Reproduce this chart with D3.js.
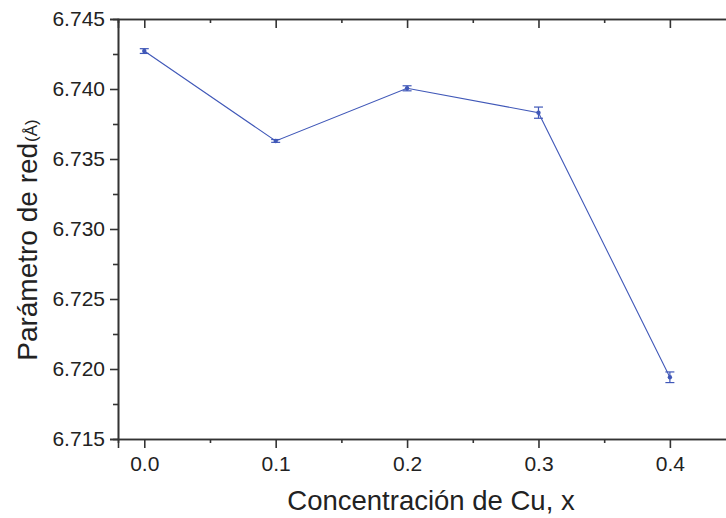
<!DOCTYPE html>
<html>
<head>
<meta charset="utf-8">
<script src="https://cdn.jsdelivr.net/npm/d3@7"></script>
<style>
  body { margin: 0; background: #fff; }
  svg { display: block; overflow: hidden; }
  text { font-family: "Liberation Sans", Arial, sans-serif; fill: #222; }
</style>
</head>
<body>
<div id="chart"></div>
<script>
// data
var concentration = [0.0, 0.1, 0.2, 0.3, 0.4];
var latticeParam = [6.74271, 6.73629, 6.74005, 6.73831, 6.71941];
var latticeErr = [0.00017, 0.0001, 0.00018, 0.0004, 0.00038];
var xTicks = [0.0, 0.1, 0.2, 0.3, 0.4];
var yTicks = [6.715, 6.720, 6.725, 6.730, 6.735, 6.740, 6.745];

var width = 726, height = 518;
var margin = { left: 118, top: 19, bottom: 79 };

var svg = d3.select("#chart").append("svg")
    .attr("width", width)
    .attr("height", height);

// x frame runs past the right edge of the picture
var x = d3.scaleLinear().domain([-0.02, 0.48]).range([margin.left, margin.left + 0.5 * 1314]);
var y = d3.scaleLinear().domain([6.715, 6.745]).range([height - margin.bottom, margin.top]);

var axisColor = "#333";
var blue = "#4058b8";

// minor tick values
var xMinor = d3.range(0, 0.5, 0.05).filter(function (d) { return Math.abs(d * 10 - Math.round(d * 10)) > 0.01; });
var yMinor = d3.range(6.7175, 6.745, 0.005);

// bottom axis
svg.append("g")
    .attr("transform", "translate(0," + y(6.715) + ")")
    .call(d3.axisBottom(x).tickValues(xTicks).tickSize(9).tickPadding(8).tickFormat(d3.format(".1f")));
svg.append("g")
    .attr("transform", "translate(0," + y(6.715) + ")")
    .call(d3.axisBottom(x).tickValues(xMinor).tickSize(4).tickFormat(""));

// top axis, ticks inward
svg.append("g")
    .attr("transform", "translate(0," + y(6.745) + ")")
    .call(d3.axisTop(x).tickValues(xTicks).tickSize(-9).tickFormat(""));
svg.append("g")
    .attr("transform", "translate(0," + y(6.745) + ")")
    .call(d3.axisTop(x).tickValues(xMinor).tickSize(-4).tickFormat(""));

// left axis
svg.append("g")
    .attr("transform", "translate(" + margin.left + ",0)")
    .call(d3.axisLeft(y).tickValues(yTicks).tickSize(8).tickPadding(5).tickFormat(d3.format(".3f")));
svg.append("g")
    .attr("transform", "translate(" + margin.left + ",0)")
    .call(d3.axisLeft(y).tickValues(yMinor).tickSize(5).tickFormat(""));

svg.selectAll(".domain").attr("stroke", axisColor).attr("stroke-width", 1.6);
svg.selectAll(".tick line").attr("stroke", axisColor).attr("stroke-width", 1.6);
svg.selectAll(".tick text").attr("font-size", 21).attr("fill", "#222")
    .style("font-family", "'Liberation Sans', Arial, sans-serif");

// line
var pts = concentration.map(function (c, i) { return { x: c, y: latticeParam[i], e: latticeErr[i] }; });

svg.append("path")
    .datum(pts)
    .attr("fill", "none")
    .attr("stroke", blue)
    .attr("stroke-width", 1.1)
    .attr("d", d3.line().x(function (d) { return x(d.x); }).y(function (d) { return y(d.y); }));

// error bars
var err = svg.selectAll(".err").data(pts).enter().append("g").attr("class", "err");
err.append("line")
    .attr("x1", function (d) { return x(d.x); })
    .attr("x2", function (d) { return x(d.x); })
    .attr("y1", function (d) { return y(d.y - d.e); })
    .attr("y2", function (d) { return y(d.y + d.e); })
    .attr("stroke", blue).attr("stroke-width", 1.2);
[-1, 1].forEach(function (s) {
    err.append("line")
        .attr("x1", function (d) { return x(d.x) - 4.5; })
        .attr("x2", function (d) { return x(d.x) + 4.5; })
        .attr("y1", function (d) { return y(d.y + s * d.e); })
        .attr("y2", function (d) { return y(d.y + s * d.e); })
        .attr("stroke", blue).attr("stroke-width", 1.2);
});
err.append("circle")
    .attr("cx", function (d) { return x(d.x); })
    .attr("cy", function (d) { return y(d.y); })
    .attr("r", 2.2)
    .attr("fill", blue);

// axis titles
svg.append("text")
    .attr("x", 431)
    .attr("y", 510)
    .attr("text-anchor", "middle")
    .attr("font-size", 27.5)
    .text("Concentración de Cu, x");

var yt = svg.append("text")
    .attr("transform", "translate(37,240) rotate(-90)")
    .attr("text-anchor", "middle")
    .attr("font-size", 28);
yt.append("tspan").text("Parámetro de red");
yt.append("tspan").attr("font-size", 17).attr("dx", 1).text("(Å)");
</script>
</body>
</html>
